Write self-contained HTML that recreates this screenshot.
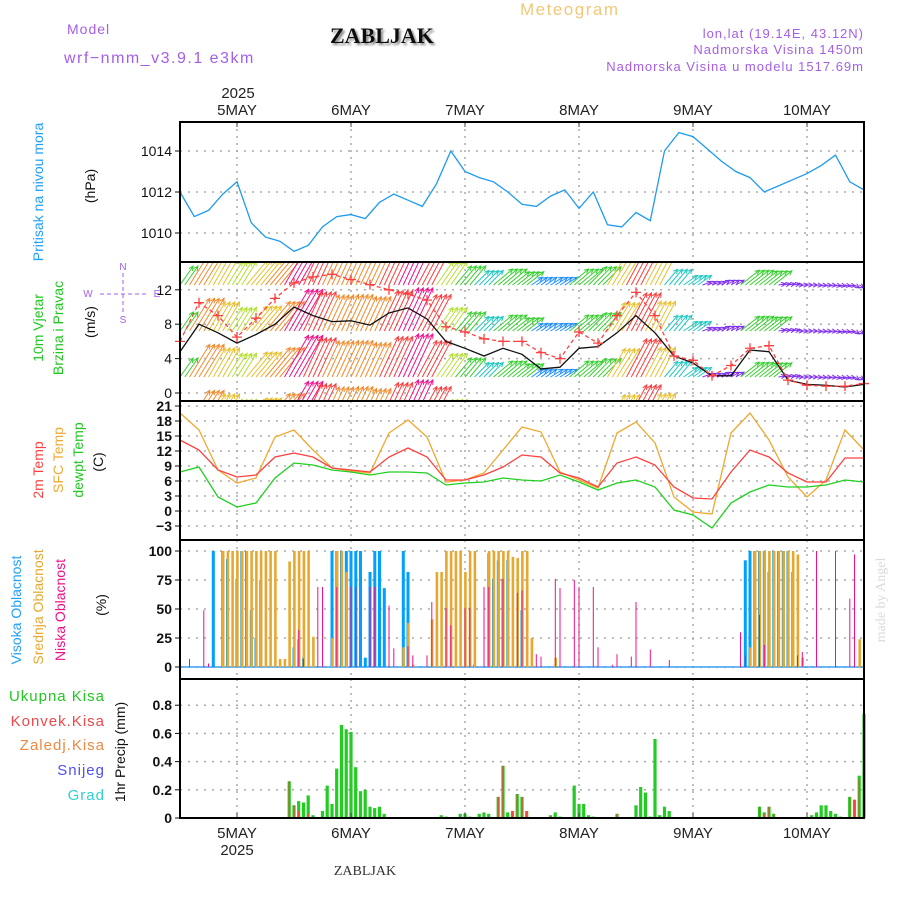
<!DOCTYPE html>
<html><head><meta charset="utf-8"><style>
html,body{margin:0;padding:0;background:#fff;}
svg{display:block;font-family:"Liberation Sans",sans-serif;}
</style></head><body>
<svg id="chart" width="900" height="900" viewBox="0 0 900 900" xmlns="http://www.w3.org/2000/svg">
<defs>
<clipPath id="windClip"><rect x="180" y="263" width="684" height="138"/></clipPath>
<filter id="sh" x="-10%" y="-10%" width="130%" height="140%"><feDropShadow dx="2" dy="2" stdDeviation="1" flood-color="#888"/></filter>
</defs>
<text x="67" y="34" font-size="14" fill="#a55ee8" letter-spacing="1">Model</text>
<text x="64" y="63" font-size="16" fill="#a55ee8" letter-spacing="1.5">wrf−nmm_v3.9.1 e3km</text>
<text x="330" y="43" font-size="22" font-weight="bold" font-family="Liberation Serif,serif" fill="#111" filter="url(#sh)">ZABLJAK</text>
<text x="520" y="15" font-size="17" fill="#f0c878" letter-spacing="1.5">Meteogram</text>
<text x="864" y="38" font-size="13" fill="#a55ee8" text-anchor="end" letter-spacing="1">lon,lat (19.14E, 43.12N)</text>
<text x="864" y="54" font-size="13" fill="#a55ee8" text-anchor="end" letter-spacing="1">Nadmorska Visina 1450m</text>
<text x="864" y="71" font-size="13" fill="#a55ee8" text-anchor="end" letter-spacing="1">Nadmorska Visina u modelu 1517.69m</text>
<text x="238" y="98" font-size="15" fill="#222" text-anchor="middle">2025</text>
<text x="365" y="875" font-size="14" font-family="Liberation Serif,serif" fill="#333" text-anchor="middle">ZABLJAK</text>
<text transform="translate(885,600) rotate(-90)" font-size="14" font-family="Liberation Serif,serif" fill="#d8dcd8" text-anchor="middle">made by Angel</text>

<g font-size="14">
<text transform="translate(43,192) rotate(-90)" fill="#1ea0ff" text-anchor="middle">Pritisak na nivou mora</text>
<text transform="translate(95,186) rotate(-90)" fill="#111" text-anchor="middle">(hPa)</text>
<text transform="translate(43,328) rotate(-90)" fill="#20c820" text-anchor="middle">10m Vjetar</text>
<text transform="translate(63,328) rotate(-90)" fill="#20c820" text-anchor="middle">Brzina i Pravac</text>
<text transform="translate(95,322) rotate(-90)" fill="#111" text-anchor="middle">(m/s)</text>
<g fill="#a55ee8" font-size="10" text-anchor="middle">
<text x="123" y="270">N</text><text x="88" y="297">W</text><text x="157" y="297">E</text><text x="123" y="323">S</text>
<line x1="123" y1="273" x2="123" y2="314" stroke="#a55ee8" stroke-dasharray="4,3"/>
<line x1="100" y1="294" x2="148" y2="294" stroke="#a55ee8" stroke-dasharray="4,3"/>
</g>
<text transform="translate(43,470) rotate(-90)" fill="#ff4040" text-anchor="middle">2m Temp</text>
<text transform="translate(63,460) rotate(-90)" fill="#f0a830" text-anchor="middle">SFC Temp</text>
<text transform="translate(83,460) rotate(-90)" fill="#20c820" text-anchor="middle">dewpt Temp</text>
<text transform="translate(103,462) rotate(-90)" fill="#111" text-anchor="middle">(C)</text>
<text transform="translate(21,610) rotate(-90)" fill="#1ea0ff" text-anchor="middle">Visoka Oblacnost</text>
<text transform="translate(43,607) rotate(-90)" fill="#e8a830" text-anchor="middle">Srednja Oblacnost</text>
<text transform="translate(65,610) rotate(-90)" fill="#f0108a" text-anchor="middle">Niska Oblacnost</text>
<text transform="translate(106,605) rotate(-90)" fill="#111" text-anchor="middle">(%)</text>
<text transform="translate(125,752) rotate(-90)" fill="#111" text-anchor="middle">1hr Precip (mm)</text>
</g>
<g font-size="15" text-anchor="end" letter-spacing="1">
<text x="105" y="701" fill="#20c820">Ukupna  Kisa</text>
<text x="105" y="726" fill="#f04848">Konvek.Kisa</text>
<text x="105" y="750" fill="#f08840">Zaledj.Kisa</text>
<text x="105" y="775" fill="#5050f0">Snijeg</text>
<text x="105" y="800" fill="#30d0d0">Grad</text>
</g>
<g id="grid"></g>
<g id="marks"></g>
<g id="frame"></g>
</svg>
<script>
// ---- data ----
const dayLabels = ["5MAY","6MAY","7MAY","8MAY","9MAY","10MAY"];
const dayHours = [12,36,60,84,108,132];
// pressure, 3-hourly from 4 May 12Z
const pressure = [1012.0,1010.8,1011.1,1011.9,1012.5,1010.5,1009.8,1009.6,1009.1,1009.4,1010.3,1010.8,1010.9,1010.7,1011.5,1011.9,1011.6,1011.3,1012.4,1014.0,1013.0,1012.7,1012.5,1012.0,1011.4,1011.3,1011.8,1012.1,1011.2,1012.0,1010.4,1010.3,1011.0,1010.6,1014.0,1014.9,1014.7,1014.1,1013.5,1013.0,1012.7,1012.0,1012.3,1012.6,1012.9,1013.3,1013.8,1012.5,1012.1];
const pressTicks = [1010,1012,1014];
// 4-hourly series
const windSpeed = [4.8,8.0,7.0,5.8,6.8,8.0,10.0,9.0,8.3,8.4,7.9,9.3,9.9,8.6,6.0,5.2,4.3,5.2,4.5,2.8,3.0,5.2,5.4,7.0,9.0,7.0,4.3,3.5,2.0,2.0,5.0,4.8,1.5,1.0,0.9,0.7,1.0];
const windGust = [6.0,10.5,9.0,6.5,8.7,11.0,12.8,13.5,13.8,13.2,12.6,12.0,11.5,10.8,7.7,7.1,6.3,6.0,6.0,4.7,4.0,7.1,5.8,9.0,11.7,9.0,4.3,3.8,2.0,3.2,5.2,5.5,1.5,0.9,0.8,0.8,1.1];
const windDir = [215,212,210,212,220,220,210,205,205,205,205,205,205,208,215,220,225,230,232,235,238,230,225,212,208,208,220,235,250,240,232,232,260,270,275,280,300];
const windTicks = [0,4,8,12];
const temp2m = [14.2,12.2,8.2,6.8,7.2,10.8,11.6,10.8,8.6,8.2,7.8,10.8,12.6,10.8,6.2,6.2,7.2,8.8,11.2,10.8,7.6,6.6,4.8,9.6,10.8,9.2,4.8,2.6,2.4,7.8,12.2,10.8,7.6,5.8,5.8,10.6,10.6];
const tempSfc = [19.6,16.2,8.2,5.6,6.6,14.8,16.2,12.2,8.6,8.0,7.6,15.6,18.2,14.8,5.8,6.2,7.6,12.2,16.8,15.8,7.8,6.2,4.6,15.6,17.8,13.6,2.8,-0.2,-0.6,15.6,19.6,14.2,6.8,2.8,6.2,16.2,12.2];
const tempDew = [7.8,8.8,2.8,0.8,1.6,6.6,9.6,9.2,8.2,7.8,7.2,7.8,7.8,7.6,5.2,5.6,5.8,6.6,6.2,6.0,7.2,5.8,4.2,5.6,6.2,4.8,0.2,-0.8,-3.4,1.6,3.8,5.2,4.8,4.8,5.2,6.2,5.8];
const tempTicks = [-3,0,3,6,9,12,15,18,21];
// cloud (hour index, %)
const highHours = [7,9,10,12,13,14,15,16,17,24,25,26,32,33,34,35,36,37,38,39,40,41,42,43,47,48,62,65,66,67,68,69,72,119,120,121,122,123,124,125,126,127,128,129];
const highVals  = [100,100,93,76,100,100,49,25,75,17,24,8,100,100,100,100,100,100,100,8,82,100,100,68,100,82,2,98,76,92,76,92,49,92,100,100,100,100,82,100,100,100,100,82];
const midHours = [9,10,11,12,13,14,15,16,17,18,19,20,21,22,23,24,25,26,27,28,32,33,34,35,47,48,49,53,54,55,56,57,58,59,60,61,62,65,66,67,68,69,70,71,72,73,74,79,120,121,122,123,124,125,126,127,128,129,130,131,143];
const midVals  = [100,100,100,100,100,100,100,100,100,100,100,100,7,7,91,100,100,100,100,26,25,100,100,82,17,38,2,41,82,82,100,100,100,100,82,100,100,100,100,100,100,100,95,94,100,100,25,8,17,100,100,100,100,100,100,100,100,100,97,8,24];
const lowHours = [2,5,6,25,26,29,30,33,36,37,40,41,44,45,48,49,52,53,56,57,60,61,64,65,68,71,72,75,76,79,80,83,84,87,88,91,92,95,96,99,103,118,119,122,123,130,131,134,138,141,142];
const lowVals  = [7,49,3,32,7,69,69,69,69,69,69,69,53,16,18,10,10,56,51,36,51,51,69,69,76,64,66,11,9,76,68,75,69,69,17,2,11,9,56,15,6,30,10,45,19,10,13,100,100,59,97];
const cloudTicks = [0,25,50,75,100];
// precipitation (hour index, mm)
const precipHours = [23,24,25,26,27,28,30,31,32,33,34,35,36,37,38,39,40,41,42,43,55,56,59,60,61,63,64,65,67,68,69,70,71,72,73,74,78,79,80,83,84,85,86,87,92,96,97,98,99,100,101,102,103,122,123,124,125,133,134,135,136,137,138,139,141,142,143,144];
const precipTotal = [0.26,0.09,0.12,0.11,0.16,0.02,0.05,0.23,0.10,0.35,0.66,0.63,0.61,0.36,0.19,0.20,0.08,0.07,0.08,0.03,0.02,0.01,0.03,0.03,0.01,0.03,0.04,0.03,0.15,0.37,0.04,0.05,0.17,0.15,0.05,0.005,0.02,0.04,0.01,0.23,0.10,0.10,0.02,0.01,0.03,0.09,0.22,0.18,0.01,0.56,0.02,0.08,0.05,0.08,0.04,0.08,0.03,0.02,0.04,0.09,0.09,0.05,0.03,0.01,0.15,0.13,0.30,0.74];
const precipConv  = [0.26,0.09,0.05,0,0.03,0,0,0,0,0,0,0,0,0,0,0,0,0,0,0,0,0,0,0,0,0,0,0,0.15,0.37,0,0.05,0.17,0.15,0.05,0.005,0.01,0,0,0,0,0,0,0,0.03,0,0,0,0,0,0,0,0,0.08,0.03,0.08,0.03,0,0,0,0,0,0,0,0.15,0.13,0.28,0.70];
const precipTicks = ["0","0.2","0.4","0.6","0.8"];

// ---- scales ----
const X0=180, X1=864, PXH=4.75;
const xOf = h => X0 + h*PXH;
const yP = v => 192 - (v-1012)*20.5;
const yW = v => 393 - v*8.6;
const yT = v => 511 - v*5;
const yC = v => 667 - v*1.16;
const yR = v => 818 - v*141;
const NS="http://www.w3.org/2000/svg";
const grid=document.getElementById('grid'), marks=document.getElementById('marks'), frame=document.getElementById('frame');
function mk(tag, attrs, parent){const e=document.createElementNS(NS,tag);for(const k in attrs)e.setAttribute(k,attrs[k]);parent.appendChild(e);return e;}
const panels=[[122,262],[262,401],[401,540],[540,679],[679,818]];

dayHours.forEach((h,i)=>{
  panels.forEach(p=>{
    const l=mk('line',{x1:xOf(h),x2:xOf(h),y1:p[0],y2:p[1],stroke:'#aaa','stroke-width':1.5,'stroke-dasharray':'2,5'},grid);
    
    
  });
  const t=mk('text',{x:xOf(h),y:115,'font-size':15,fill:'#222','text-anchor':'middle'},frame);
  t.textContent=dayLabels[i];
  
  
  const b=mk('text',{x:xOf(h),y:838,'font-size':15,fill:'#222','text-anchor':'middle'},frame);
  b.textContent=dayLabels[i];
  
  
  mk('line',{x1:xOf(h),x2:xOf(h),y1:122,y2:127,stroke:'#444'},frame);
  mk('line',{x1:xOf(h),x2:xOf(h),y1:813,y2:818,stroke:'#444'},frame);
});
const by=mk('text',{x:xOf(12),y:855,'font-size':15,fill:'#222','text-anchor':'middle'},frame);
by.textContent='2025';



function hTicks(ticks, yf, labels, bold){
  ticks.forEach((v,i)=>{
    const y=yf(v);
    const l=mk('line',{x1:X0,x2:X1,y1:y,y2:y,stroke:'#aaa','stroke-width':1.5,'stroke-dasharray':'2,6'},grid);
    
    
    mk('line',{x1:X0-5,x2:X0,y1:y,y2:y,stroke:'#111'},frame);
    const t=mk('text',{x:X0-8,y:y+5,'font-size':14,fill:'#111','text-anchor':'end'},frame);
    if(bold) t.setAttribute('font-weight','bold');
    t.textContent=labels?labels[i]:String(v);
    
    
  });
}
hTicks(pressTicks,yP);
hTicks(windTicks,yW);
hTicks(tempTicks,yT,tempTicks.map(v=>v<0?'−'+(-v):String(v)),true);
hTicks(cloudTicks,yC,null,true);
hTicks(precipTicks.map(Number),yR,precipTicks,true);

function line(vals, step, yf, color, name, extra){
  const pts=vals.map((v,i)=>xOf(i*step).toFixed(1)+','+yf(v).toFixed(1)).join(' ');
  const p=mk('polyline',Object.assign({points:pts,fill:'none',stroke:color,'stroke-width':1.3},extra||{}),marks);
  
  
  return p;
}
line(pressure,3,yP,'#1e9bf0','pressure-line');

function spdColor(s){
  if(s>=9.5) return '#f0108a';
  if(s>=8.5) return '#ff3c3c';
  if(s>=7.5) return '#f58a2a';
  if(s>=6.5) return '#e8c030';
  if(s>=5.5) return '#b4e030';
  if(s>=4.5) return '#38d030';
  if(s>=3.5) return '#20c8c0';
  if(s>=2.5) return '#2090ff';
  return '#8030f0';
}
const wg=mk('g',{'clip-path':'url(#windClip)'},marks);


const bases=[239,285,331,377,423];
for(let h=0;h<=144;h++){
  const i=Math.round(h/4);
  const s=windSpeed[i], d=windDir[i]*Math.PI/180;
  const L=Math.max(s,1.2)*4.8;
  const dx=-Math.sin(d)*L, dy=Math.cos(d)*L;
  const col=spdColor(s);
  const ang=Math.atan2(dy,dx);
  bases.forEach(b=>{
    const x=xOf(h), x2=x+dx, y2=b+dy;
    const a=mk('path',{d:`M${x.toFixed(1)},${b} L${x2.toFixed(1)},${y2.toFixed(1)} M${(x2-5*Math.cos(ang-0.45)).toFixed(1)},${(y2-5*Math.sin(ang-0.45)).toFixed(1)} L${x2.toFixed(1)},${y2.toFixed(1)} L${(x2-5*Math.cos(ang+0.45)).toFixed(1)},${(y2-5*Math.sin(ang+0.45)).toFixed(1)}`,stroke:col,'stroke-width':1,fill:'none'},wg);
    
    
  });
}
line(windSpeed,4,yW,'#111','wind-speed-line');
line(windGust,4,yW,'#ff4040','wind-gust-line',{'stroke-dasharray':'4,3'});
windGust.forEach((v,i)=>{
  const x=xOf(i*4), y=yW(v);
  const m=mk('path',{d:`M${x-5},${y} L${x+5},${y} M${x},${y-5} L${x},${y+5}`,stroke:'#ff4040','stroke-width':1.3},marks);
  
  
});

line(tempSfc,4,yT,'#f0a830','sfc-temp-line');
line(temp2m,4,yT,'#ff4040','temp-2m-line');
line(tempDew,4,yT,'#20d020','dewpoint-line');

mk('line',{x1:X0,x2:X1,y1:yC(0),y2:yC(0),stroke:'#3aa0f0','stroke-width':1.5},marks);
function bars(hours, vals, yf, color, w, off, name){
  hours.forEach((h,i)=>{
    const x=xOf(h)+off, y=yf(vals[i]);
    const r=mk('rect',{x:(x-w/2).toFixed(1),y:y.toFixed(1),width:w,height:Math.max(0,(yf(0)-y)).toFixed(1),fill:color},marks);
    
    
  });
}
bars(highHours,highVals,yC,'#00a0ff',3,0,'cloud-high-bar');
bars(midHours,midVals,yC,'#e8a830',2.6,0.4,'cloud-mid-bar');
bars(lowHours,lowVals,yC,'#f0108a',1,0,'cloud-low-bar');

bars(precipHours,precipTotal,yR,'#22cc22',3.2,0,'precip-total-bar');
bars(precipHours,precipConv,yR,'#ff4040',1.2,0,'precip-conv-bar');
mk('line',{x1:X0,x2:X1,y1:818,y2:818,stroke:'#111','stroke-width':1.5,'stroke-dasharray':'6,3'},marks);

panels.forEach(p=>{
  const r=mk('rect',{x:X0,y:p[0],width:X1-X0,height:p[1]-p[0],fill:'none',stroke:'#000','stroke-width':2},frame);
  
  
});
</script>
</body></html>
